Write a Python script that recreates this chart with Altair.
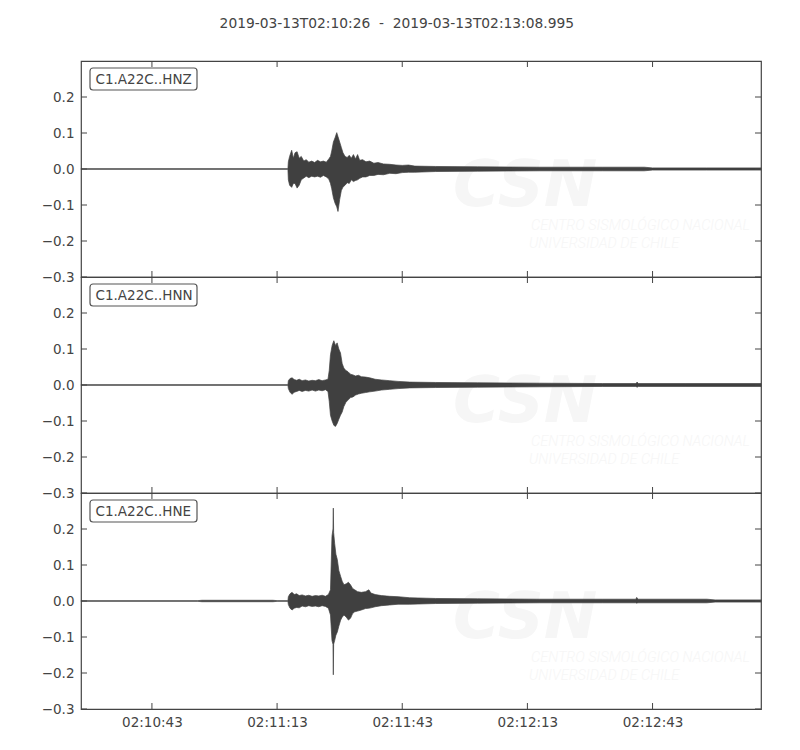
import altair as alt
import pandas as pd

# ---------------- data ----------------
TITLE = "2019-03-13T02:10:26\u00a0\u00a0-\u00a0\u00a02019-03-13T02:13:08.995"
CHANNELS = ["C1.A22C..HNZ", "C1.A22C..HNN", "C1.A22C..HNE"]
X_MAX = 162.995  # seconds after 02:10:26
X_TICKS = [17, 47, 77, 107, 137]
X_LABELS = ["02:10:43", "02:11:13", "02:11:43", "02:12:13", "02:12:43"]
Y_TICKS = [-0.3, -0.2, -0.1, 0.0, 0.1, 0.2]

# envelope (upper / lower) of each trace, seconds after start
hnz_t = [0, 49.6, 49.7, 50.0, 50.5, 50.9, 51.3, 51.8, 52.3, 52.8, 53.4, 54.0, 54.6, 55.3,
         56.0, 56.7, 57.4, 58.1, 58.8, 59.4, 59.8, 60.1, 60.5, 60.9, 61.3, 61.6, 62.0, 62.4,
         62.8, 63.3, 63.8, 64.3, 64.8, 65.3, 65.8, 66.3, 66.8, 67.5, 68.3, 69.2, 70.2, 71.2,
         72.5, 74.0, 75.5, 77.0, 78.5, 80, 85, 95, 110, 125, 135, 137, 150, 162.995]
hnz_hi = [0.001, 0.001, 0.02, 0.035, 0.052, 0.03, 0.045, 0.048, 0.03, 0.035, 0.022, 0.026,
          0.019, 0.022, 0.018, 0.024, 0.02, 0.022, 0.019, 0.028, 0.035, 0.05, 0.075, 0.087,
          0.101, 0.09, 0.075, 0.06, 0.045, 0.035, 0.032, 0.038, 0.03, 0.04, 0.028, 0.04,
          0.024, 0.026, 0.02, 0.022, 0.016, 0.018, 0.014, 0.013, 0.011, 0.01, 0.011, 0.008,
          0.007, 0.006, 0.005, 0.005, 0.005, 0.003, 0.003, 0.003]
hnz_lo = [-0.001, -0.001, -0.03, -0.045, -0.051, -0.04, -0.04, -0.053, -0.045, -0.03,
          -0.025, -0.02, -0.024, -0.02, -0.022, -0.02, -0.023, -0.018, -0.022, -0.028,
          -0.04, -0.055, -0.08, -0.095, -0.105, -0.118, -0.085, -0.06, -0.05, -0.045,
          -0.038, -0.04, -0.03, -0.035, -0.032, -0.03, -0.026, -0.022, -0.022, -0.018,
          -0.018, -0.015, -0.016, -0.012, -0.013, -0.01, -0.009, -0.009, -0.007, -0.006,
          -0.005, -0.005, -0.005, -0.003, -0.003, -0.003]

hnn_t = [0, 49.6, 49.7, 50.1, 50.6, 51.1, 51.7, 52.3, 53.0, 53.8, 54.6, 55.4, 56.2, 57.0,
         57.8, 58.6, 59.2, 59.5, 59.8, 60.2, 60.6, 61.0, 61.4, 61.8, 62.2, 62.6, 63.0, 63.5,
         64.0, 64.6, 65.2, 65.8, 66.5, 67.2, 68.2, 69.2, 70.5, 72.0, 74.0, 76.0, 78.8, 85,
         95, 110, 125, 133, 133.3, 133.6, 145, 162.995]
hnn_hi = [0.001, 0.001, 0.012, 0.018, 0.02, 0.015, 0.013, 0.016, 0.012, 0.014, 0.011,
          0.013, 0.012, 0.015, 0.012, 0.014, 0.016, 0.04, 0.084, 0.11, 0.123, 0.11, 0.117,
          0.1, 0.089, 0.06, 0.047, 0.04, 0.037, 0.03, 0.028, 0.025, 0.027, 0.023, 0.022,
          0.02, 0.016, 0.014, 0.012, 0.01, 0.008, 0.007, 0.006, 0.005, 0.004, 0.004, 0.008,
          0.004, 0.004, 0.004]
hnn_lo = [-0.001, -0.001, -0.01, -0.02, -0.026, -0.02, -0.018, -0.015, -0.018, -0.015,
          -0.017, -0.014, -0.017, -0.014, -0.016, -0.013, -0.018, -0.045, -0.084, -0.1,
          -0.112, -0.115, -0.107, -0.095, -0.084, -0.075, -0.06, -0.048, -0.042, -0.035,
          -0.033, -0.028, -0.025, -0.023, -0.021, -0.019, -0.017, -0.014, -0.012, -0.01,
          -0.008, -0.007, -0.006, -0.005, -0.004, -0.004, -0.006, -0.004, -0.004, -0.004]

hne_t = [0, 28, 29, 46, 47, 49.6, 49.7, 50.1, 50.6, 51.1, 51.7, 52.3, 53.0, 53.8, 54.6,
         55.4, 56.2, 57.0, 57.8, 58.6, 59.3, 59.8, 60.16, 60.4, 60.48, 60.56, 60.8, 61.1,
         61.44, 61.8, 62.24, 62.6, 63.04, 63.6, 64.1, 64.6, 65.1, 65.6, 66.3, 67.2, 68.2,
         69.0, 69.5, 70.5, 72.0, 74.0, 76.0, 78.8, 85, 95, 110, 125, 133, 133.2, 133.5,
         150, 152, 162.995]
hne_hi = [0.001, 0.001, 0.002, 0.002, 0.001, 0.001, 0.012, 0.02, 0.024, 0.018, 0.02,
          0.015, 0.017, 0.014, 0.016, 0.013, 0.015, 0.014, 0.016, 0.013, 0.018, 0.031, 0.18,
          0.2, 0.258, 0.19, 0.16, 0.13, 0.115, 0.085, 0.068, 0.055, 0.045, 0.048, 0.052,
          0.045, 0.035, 0.031, 0.026, 0.024, 0.026, 0.031, 0.022, 0.018, 0.015, 0.013,
          0.012, 0.009, 0.007, 0.006, 0.005, 0.005, 0.005, 0.01, 0.005, 0.005, 0.003, 0.003]
hne_lo = [-0.001, -0.001, -0.002, -0.002, -0.001, -0.001, -0.01, -0.02, -0.025, -0.02,
          -0.018, -0.019, -0.014, -0.016, -0.013, -0.015, -0.014, -0.016, -0.013, -0.015,
          -0.02, -0.039, -0.11, -0.12, -0.205, -0.12, -0.11, -0.095, -0.086, -0.07, -0.053,
          -0.045, -0.039, -0.045, -0.053, -0.048, -0.035, -0.03, -0.028, -0.025, -0.021,
          -0.02, -0.019, -0.016, -0.013, -0.011, -0.009, -0.009, -0.007, -0.006, -0.005,
          -0.005, -0.005, -0.006, -0.005, -0.005, -0.003, -0.003]

TRACES = [(hnz_t, hnz_hi, hnz_lo), (hnn_t, hnn_hi, hnn_lo), (hne_t, hne_hi, hne_lo)]

# ---------------- styling ----------------
FONT = "DejaVu Sans"
FS = 13.5
INK = "#444444"
TRACE = "#404040"
WM = "#f6f6f6"
W, H = 680, 216

label_expr = " : ".join(
    f"datum.value == {v} ? '{l}'" for v, l in zip(X_TICKS, X_LABELS)
) + " : ''"

xscale = alt.Scale(domain=[0, X_MAX], nice=False, zero=False)
yscale = alt.Scale(domain=[-0.3, 0.3], nice=False, zero=False)


def x_enc(field, bottom):
    if bottom:
        ax = alt.Axis(values=X_TICKS, labelExpr=label_expr, ticks=False, tickSize=0,
                      domain=False, grid=False, title=None, labelPadding=6,
                      labelFontSize=FS, labelFont=FONT, labelColor=INK)
    else:
        ax = None
    return alt.X(f"{field}:Q", scale=xscale, axis=ax)


def y_enc(field):
    ax = alt.Axis(values=Y_TICKS, format=".1f", ticks=False, tickSize=0, domain=False,
                  grid=False, title=None, labelPadding=7, labelFontSize=FS,
                  labelFont=FONT, labelColor=INK)
    return alt.Y(f"{field}:Q", scale=yscale, axis=ax)


def panel(i):
    t, hi, lo = TRACES[i]
    bottom = i == 2
    df = pd.DataFrame({"t": t, "hi": hi, "lo": lo})
    ytk = pd.DataFrame({"v": Y_TICKS})
    xtk = pd.DataFrame({"t": X_TICKS})
    lab = pd.DataFrame({"label": [CHANNELS[i]]})

    wm_big = alt.Chart(lab).mark_text(
        text="CSN", font="DejaVu Sans", fontSize=64, fontStyle="italic", fontWeight="bold",
        color=WM, align="left", baseline="alphabetic"
    ).encode(x=alt.value(372), y=alt.value(145))
    wm_l1 = alt.Chart(lab).mark_text(
        text="CENTRO SISMOLÓGICO NACIONAL", font="Roboto", fontSize=14.5, fontStyle="italic",
        fontWeight=300, color=WM, align="left", baseline="middle"
    ).encode(x=alt.value(450), y=alt.value(165))
    wm_l2 = alt.Chart(lab).mark_text(
        text="UNIVERSIDAD DE CHILE", font="Roboto", fontSize=14.5, fontStyle="italic",
        fontWeight=300, color=WM, align="left", baseline="middle"
    ).encode(x=alt.value(448), y=alt.value(183))

    area = alt.Chart(df).mark_area(
        color=TRACE, stroke=TRACE, strokeWidth=0.7, interpolate="linear"
    ).encode(x=x_enc("t", bottom), y=y_enc("hi"), y2="lo:Q")

    ytick_l = alt.Chart(ytk).mark_rule(color=INK, strokeWidth=1).encode(
        y=y_enc("v"), x=alt.value(0), x2=alt.value(6))
    ytick_r = alt.Chart(ytk).mark_rule(color=INK, strokeWidth=1).encode(
        y=y_enc("v"), x=alt.value(W - 6), x2=alt.value(W))
    xtick_t = alt.Chart(xtk).mark_rule(color=INK, strokeWidth=1).encode(
        x=x_enc("t", bottom), y=alt.value(0), y2=alt.value(6))
    xtick_b = alt.Chart(xtk).mark_rule(color=INK, strokeWidth=1).encode(
        x=x_enc("t", bottom), y=alt.value(H - 6), y2=alt.value(H))

    box = alt.Chart(lab).mark_rect(
        fill="white", stroke="#555555", strokeWidth=1.2, cornerRadius=3
    ).encode(x=alt.value(9), x2=alt.value(116), y=alt.value(7), y2=alt.value(29))
    txt = alt.Chart(lab).mark_text(
        font=FONT, fontSize=FS, color=INK, align="left", baseline="middle"
    ).encode(x=alt.value(14.5), y=alt.value(18.5), text="label:N")

    return alt.layer(wm_big, wm_l1, wm_l2, area, ytick_l, ytick_r, xtick_t, xtick_b,
                     box, txt).properties(width=W, height=H)


chart = alt.vconcat(panel(0), panel(1), panel(2), spacing=0, bounds="flush").properties(
    title=alt.TitleParams(TITLE, font=FONT, fontSize=13.8, fontWeight="normal", color=INK,
                          anchor="middle", dx=-5, offset=18, baseline="alphabetic"),
    padding={"left": 32, "top": 9, "right": 20, "bottom": 10},
    background="white",
).configure_view(stroke=INK, strokeWidth=1.2).configure_concat(spacing=0)

chart.save("out.html", embed_options={"renderer": "svg", "actions": False})
